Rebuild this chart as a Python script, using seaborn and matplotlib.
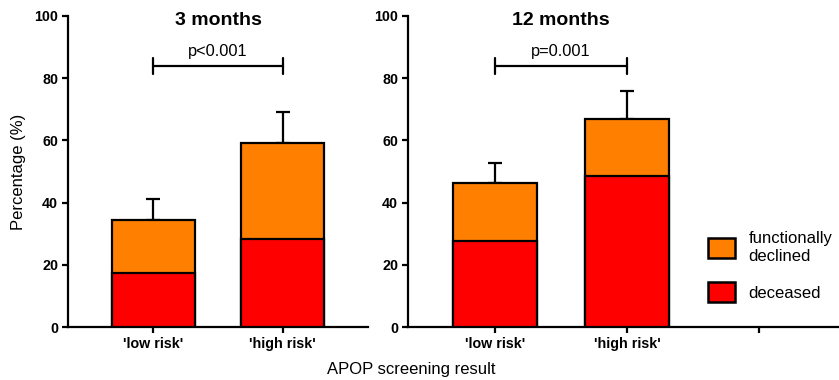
import matplotlib
matplotlib.use("Agg")
import matplotlib.pyplot as plt
import matplotlib.patches as mpatches
import seaborn as sns
import pandas as pd

# values (percentages)
groups = ["'low risk'", "'high risk'"]
deceased_3m = [17.4, 28.3]
total_3m = [34.4, 59.2]        # deceased + functionally declined
err_top_3m = [41.2, 69.1]
deceased_12m = [27.7, 48.6]
total_12m = [46.2, 66.9]
err_top_12m = [52.8, 75.9]
p_labels = ["p<0.001", "p=0.001"]
titles = ["3 months", "12 months"]
bracket_y = 84

orange = "#FF8000"
red = "#FF0000"

sns.set_theme(style="ticks")
plt.rcParams['font.family'] = ['Liberation Sans', 'DejaVu Sans']
plt.rcParams['text.color'] = 'black'
plt.rcParams['axes.labelcolor'] = 'black'
plt.rcParams['axes.linewidth'] = 1.6
plt.rcParams['xtick.major.width'] = 1.6
plt.rcParams['ytick.major.width'] = 1.6
plt.rcParams['xtick.major.size'] = 4
plt.rcParams['ytick.major.size'] = 4
plt.rcParams['xtick.color'] = 'black'
plt.rcParams['ytick.color'] = 'black'
plt.rcParams['axes.edgecolor'] = 'black'

fig = plt.figure(figsize=(8.39, 3.8), dpi=100)
ax1 = fig.add_axes([0.081, 0.139, 0.358, 0.819])
ax2 = fig.add_axes([0.486, 0.139, 0.513, 0.819])


def stacked_panel(ax, deceased, total, err_top, title, ptext, xmax):
    df = pd.DataFrame({'group': groups, 'deceased': deceased, 'total': total})
    # error bars only upward, behind the bars
    ax.errorbar(x=[0, 1], y=total,
                yerr=[[0, 0], [e - t for e, t in zip(err_top, total)]],
                fmt='none', ecolor='black', elinewidth=1.6, capsize=5,
                capthick=1.6, zorder=1)
    sns.barplot(data=df, x='group', y='total', color=orange, width=0.64,
                edgecolor='black', linewidth=1.6, saturation=1, ax=ax, zorder=2)
    sns.barplot(data=df, x='group', y='deceased', color=red, width=0.64,
                edgecolor='black', linewidth=1.6, saturation=1, ax=ax, zorder=3)
    # significance bracket
    ax.plot([0, 1], [bracket_y, bracket_y], color='black', lw=1.6, clip_on=False)
    for xx in [0, 1]:
        ax.plot([xx, xx], [bracket_y - 2.6, bracket_y + 2.6], color='black',
                lw=1.6, clip_on=False)
    ax.text(0.5, 88.6, ptext, ha='center', va='center', fontsize=11.8)
    ax.text(0.5, 98.4, title, ha='center', va='center', fontsize=14,
            fontweight='bold')
    ax.set_ylim(0, 100)
    ax.set_xlim(-0.66, xmax)
    ax.set_yticks([0, 20, 40, 60, 80, 100])
    ax.set_xlabel('')
    ax.set_ylabel('')
    ax.tick_params(axis='both', labelsize=10.3, pad=3)
    for lab in ax.get_xticklabels() + ax.get_yticklabels():
        lab.set_fontweight('bold')
    sns.despine(ax=ax)


stacked_panel(ax1, deceased_3m, total_3m, err_top_3m, titles[0], p_labels[0], 1.66)
stacked_panel(ax2, deceased_12m, total_12m, err_top_12m, titles[1], p_labels[1], 2.6)
ax2.set_xticks([0, 1, 2])
ax2.set_xticklabels(groups + [''], fontweight='bold')

ax1.set_ylabel('Percentage (%)', fontsize=12, labelpad=6)
fig.text(0.49, 0.028, 'APOP screening result', ha='center', va='center',
         fontsize=12)

handles = [mpatches.Patch(facecolor=orange, edgecolor='black', linewidth=1.8,
                          label='functionally\ndeclined'),
           mpatches.Patch(facecolor=red, edgecolor='black', linewidth=1.8,
                          label='deceased')]
ax2.legend(handles=handles, loc='upper left', bbox_to_anchor=(0.678, 0.335),
           frameon=False, fontsize=12, handlelength=1.65, handleheight=1.47,
           handletextpad=0.8, labelspacing=1.1, borderpad=0)

fig.savefig('out.png', dpi=100)
